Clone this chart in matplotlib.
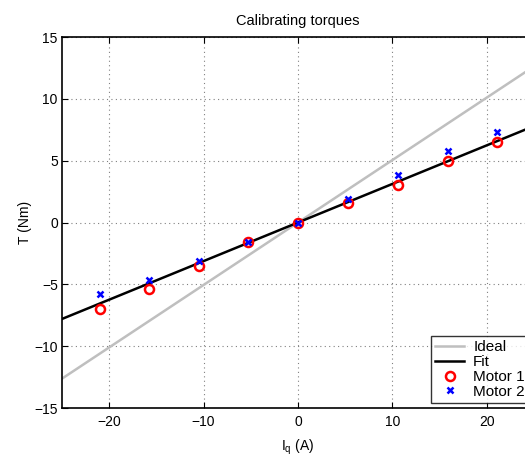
import numpy as np
import matplotlib.pyplot as plt

plt.rcParams['font.family'] = ['Liberation Sans', 'DejaVu Sans']

# measured current (A) and torque (Nm) for both motors
iq = [-21.0, -15.8, -10.5, -5.25, 0.0, 5.3, 10.55, 15.85, 21.1]
torque_m1 = [-6.98, -5.40, -3.50, -1.55, 0.0, 1.55, 3.07, 4.99, 6.52]
torque_m2 = [-5.80, -4.65, -3.10, -1.55, 0.0, 1.92, 3.83, 5.77, 7.31]

# nominal torque constant and fitted one (Nm/A)
kt_ideal = 0.505
kt_fit = 0.312

x_line = np.array([-25, 25])

fs = 10

fig = plt.figure(figsize=(5.25, 4.61), dpi=100)
ax = fig.add_axes([62 / 525, 1 - 408 / 461, (534 - 62) / 525, (408 - 37) / 461])

ax.plot(x_line, kt_ideal * x_line, color='0.75', lw=1.8, label='Ideal')
ax.plot(x_line, kt_fit * x_line, color='k', lw=1.8, label='Fit')
ax.plot(iq, torque_m1, 'o', mfc='none', mec='red', mew=1.8, ms=6.5, label='Motor 1')
ax.plot(iq, torque_m2, 'x', color='blue', mew=1.8, ms=4, label='Motor 2')

ax.set_xlim(-25, 25)
ax.set_ylim(-15, 15)
ax.set_xticks([-20, -10, 0, 10, 20])
ax.set_yticks([-15, -10, -5, 0, 5, 10, 15])
ax.grid(True, color='0.5', linestyle=(0, (1, 3)), lw=0.8)
ax.tick_params(direction='in', labelsize=fs, length=4, top=True, right=True)
ax.tick_params(axis='y', pad=3)
ax.tick_params(axis='x', pad=5)
for s in ax.spines.values():
    s.set_linewidth(1.2)

ax.set_title('Calibrating torques', fontsize=10.5, pad=9)
ax.set_xlabel('$\\mathregular{I_q}$ (A)', fontsize=fs, labelpad=6)
ax.set_ylabel('T (Nm)', fontsize=fs, labelpad=2)

leg = ax.legend(loc='lower right', bbox_to_anchor=(1.0, 0.0), fontsize=11,
                frameon=True, fancybox=False, edgecolor='k', borderpad=0.25,
                handlelength=1.9, handletextpad=0.6, labelspacing=0.06,
                borderaxespad=0.35)
leg.get_frame().set_linewidth(1.0)

fig.savefig('out.png', dpi=100)
